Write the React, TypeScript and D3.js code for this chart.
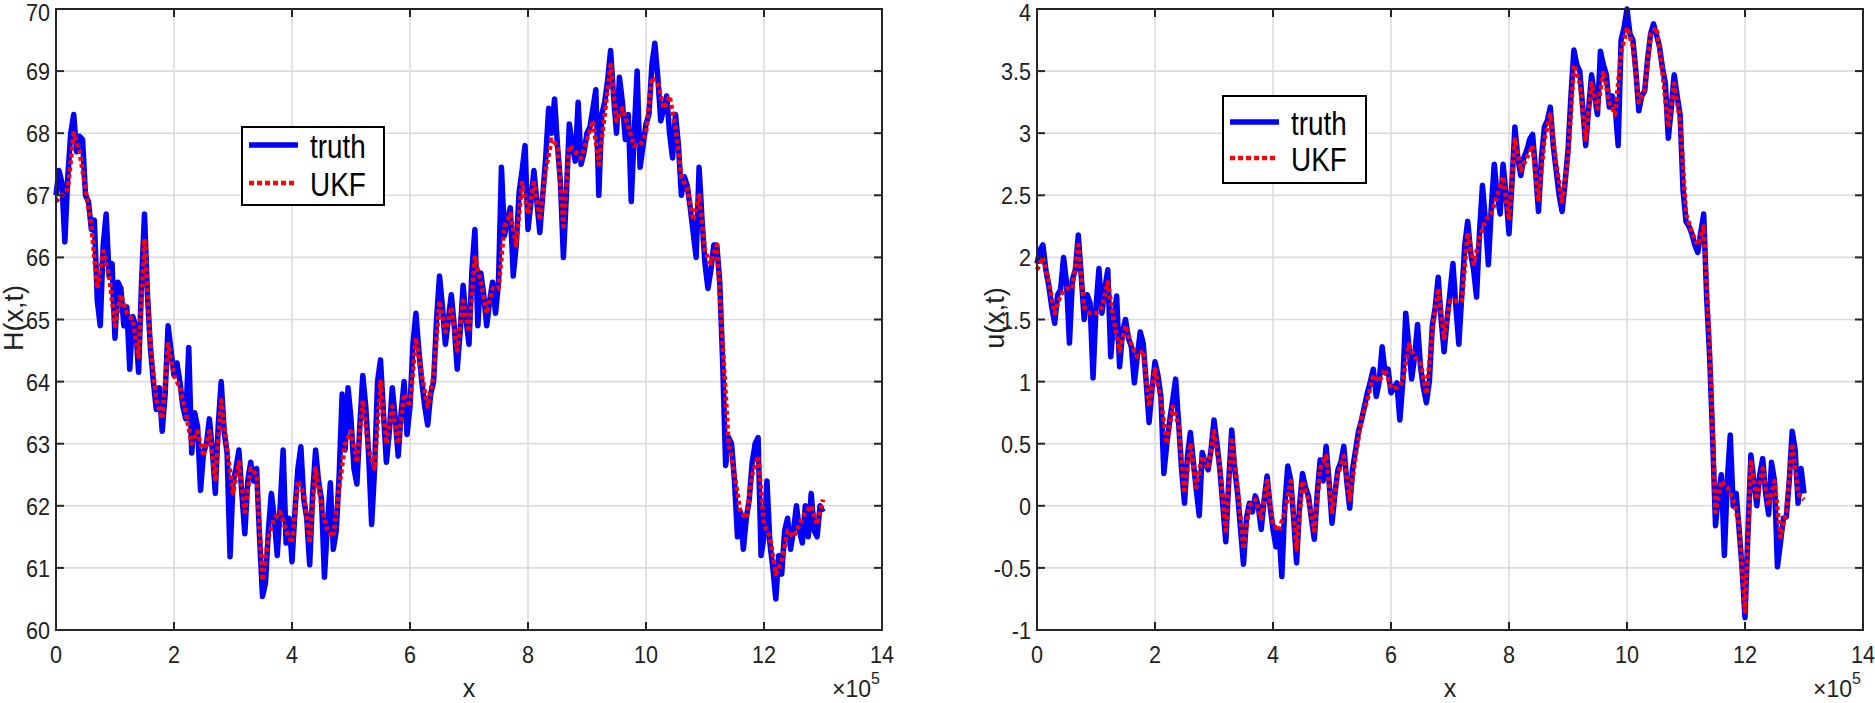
import React from "react";
import * as d3 from "d3";

// sample positions along x (units of 1e5): truth every 0.05, UKF every 0.1
const truthX = d3.range(261).map((i) => i / 20);
const ukfX = d3.range(131).map((i) => i / 10);

// left panel: H(x,t)
const hTruth = [
  67.0, 67.4, 67.2, 66.25, 67.3, 68.0, 68.3, 67.7, 67.95, 67.9,
  67.0, 66.9, 66.45, 66.6, 65.3, 64.9, 66.2, 66.7, 65.7, 65.9,
  64.7, 65.6, 65.5, 64.9, 65.2, 64.2, 65.05, 64.9, 64.15, 65.6,
  66.7, 65.4, 64.55, 64.0, 63.55, 63.9, 63.2, 63.8, 64.9, 64.5,
  64.1, 64.3, 64.0, 63.6, 63.4, 64.55, 62.85, 63.5, 63.27, 62.25,
  62.85, 63.0, 63.4, 62.9, 62.2, 63.3, 64.0, 63.2, 62.85, 61.18,
  62.37, 62.6, 62.9, 62.2, 61.55, 62.4, 62.7, 62.4, 62.6, 61.5,
  60.54, 60.75, 61.6, 62.2, 61.8, 61.2, 62.0, 62.9, 61.4, 61.8,
  61.1, 61.9, 62.6, 62.95, 62.1, 61.8, 61.05, 62.2, 62.9, 62.4,
  62.1, 60.85, 61.7, 62.37, 61.3, 61.6, 62.5, 63.8, 62.9, 63.9,
  63.4, 62.6, 62.35, 63.3, 64.1, 63.6, 62.8, 61.7, 62.6, 64.0,
  64.35, 63.5, 62.7, 63.2, 63.9, 63.4, 62.8, 63.5, 64.0, 63.15,
  63.6, 64.6, 65.1, 64.5, 64.0, 63.6, 63.3, 63.8, 64.0, 65.0,
  65.7, 65.2, 64.6, 65.0, 65.4, 64.9, 64.2, 64.8, 65.55, 65.0,
  64.6, 65.8, 66.45, 64.9, 65.75, 65.4, 64.9, 65.3, 65.6, 65.1,
  65.6, 67.45, 66.35, 66.6, 66.8, 65.7, 66.2, 67.05, 67.4, 67.8,
  66.45, 66.9, 67.4, 66.9, 66.4, 67.0, 67.6, 68.4, 68.0, 68.55,
  67.8, 67.2, 66.0, 67.0, 68.15, 67.8, 67.55, 68.5, 67.5, 67.7,
  68.0, 68.1, 68.4, 68.7, 67.0, 68.3, 68.5, 68.85, 69.33, 68.6,
  68.0, 68.9, 68.5, 67.9, 68.3, 66.9, 68.0, 69.0, 67.45, 67.8,
  68.15, 68.3, 69.1, 69.45, 68.9, 68.2, 68.4, 68.6, 68.0, 67.6,
  68.3, 67.8, 67.0, 67.3, 67.15, 66.8, 66.4, 66.0, 67.45, 66.6,
  65.9, 65.5, 65.8, 66.2, 66.2, 65.6, 64.3, 62.65, 63.1, 63.0,
  62.4, 61.5, 61.9, 61.3, 61.8, 62.1, 62.7, 63.0, 63.1, 61.2,
  61.5, 62.4, 61.4, 61.0, 60.5, 61.2, 60.9, 61.6, 61.8, 61.3,
  61.6, 62.0, 61.6, 61.4, 62.0, 61.5, 62.2, 61.6, 61.5, 62.0,
  61.9,
];
const hUkf = [
  66.9, 67.0, 67.1, 68.0, 67.7, 67.1, 66.5, 65.5, 66.1, 65.7,
  64.9, 65.4, 65.1, 65.0, 64.4, 66.3, 64.6, 63.7, 63.4, 64.6,
  64.1, 63.9, 63.5, 63.0, 63.2, 62.8, 63.2, 62.4, 63.7, 62.9,
  62.2, 62.7, 61.9, 62.6, 62.5, 60.8, 61.5, 61.8, 61.9, 61.6,
  61.4, 62.4, 62.2, 61.4, 62.6, 62.0, 61.6, 61.5, 62.3, 63.0,
  63.2, 62.7, 63.7, 62.9, 62.6, 64.0, 63.0, 63.6, 63.0, 63.8,
  63.6, 64.7, 64.1, 63.6, 64.1, 65.3, 64.8, 65.2, 64.5, 65.3,
  64.8, 66.0, 65.6, 65.1, 65.5, 65.5, 66.5, 66.7, 66.2, 67.2,
  66.7, 67.2, 66.6, 67.4, 67.9, 67.8, 66.5, 67.8, 67.7, 67.6,
  67.9, 68.2, 67.5, 68.3, 69.1, 68.2, 68.4, 68.1, 67.8, 67.8,
  68.0, 68.9, 68.8, 68.4, 68.6, 68.1, 67.3, 67.1, 66.6, 67.0,
  66.1, 65.9, 66.2, 64.6, 63.0, 62.5, 61.9, 61.8, 62.5, 62.8,
  61.7, 61.5, 60.9, 61.1, 61.6, 61.5, 61.7, 61.9, 62.0, 61.7,
  62.1,
];

// right panel: u(x,t)
const uTruth = [
  1.95, 2.06, 2.1, 1.9, 1.77, 1.6, 1.47, 1.7, 1.74, 2.0,
  1.8, 1.31, 1.82, 1.9, 2.18, 1.85, 1.5, 1.7, 1.63, 1.03,
  1.6, 1.91, 1.55, 1.75, 1.9, 1.2, 1.5, 1.69, 1.12, 1.4,
  1.5, 1.35, 1.28, 0.99, 1.2, 1.4, 1.31, 1.0, 0.67, 0.95,
  1.16, 1.05, 0.88, 0.26, 0.5, 0.69, 0.85, 1.02, 0.67, 0.3,
  0.02, 0.4, 0.59, 0.35, 0.13, -0.08, 0.43, 0.35, 0.29, 0.45,
  0.69, 0.5, 0.29, 0.0, -0.29, 0.2, 0.61, 0.3, 0.1, -0.19,
  -0.47, -0.1, 0.02, -0.05, 0.08, 0.0, -0.19, 0.05, 0.24, 0.0,
  -0.19, -0.33, -0.2, -0.57, 0.0, 0.32, 0.21, -0.1, -0.46, 0.0,
  0.26, 0.15, 0.08, -0.1, -0.27, 0.1, 0.37, 0.2, 0.48, 0.2,
  -0.14, 0.1, 0.29, 0.35, 0.48, 0.2, -0.02, 0.3, 0.45, 0.6,
  0.69, 0.8, 0.91, 1.0, 1.1, 0.88, 1.0, 1.28, 1.07, 1.1,
  0.91, 0.95, 0.99, 0.69, 1.0, 1.55, 1.3, 1.02, 1.2, 1.46,
  1.12, 0.95, 0.83, 1.0, 1.45, 1.6, 1.84, 1.5, 1.24, 1.5,
  1.72, 1.95, 1.6, 1.3, 1.7, 2.1, 2.29, 2.04, 1.9, 1.68,
  2.2, 2.58, 2.3, 1.94, 2.4, 2.75, 2.5, 2.35, 2.75, 2.5,
  2.19, 2.6, 3.05, 2.8, 2.66, 2.8, 2.86, 2.95, 2.99, 2.7,
  2.37, 2.8, 3.05, 3.1, 3.21, 2.9, 2.7, 2.5, 2.37, 2.6,
  2.86, 3.3, 3.67, 3.55, 3.5, 3.2, 2.9, 3.2, 3.47, 3.3,
  3.15, 3.66, 3.55, 3.47, 3.21, 3.3, 3.21, 2.9, 3.75, 3.85,
  4.0, 3.8, 3.75, 3.5, 3.18, 3.3, 3.34, 3.6, 3.8, 3.88,
  3.79, 3.7, 3.53, 3.4, 2.96, 3.2, 3.47, 3.3, 3.15, 2.54,
  2.29, 2.25, 2.19, 2.1, 2.04, 2.2, 2.35, 1.68, 1.21, 0.57,
  -0.16, 0.1, 0.25, -0.4, 0.2, 0.57, 0.0, 0.1, -0.19, -0.5,
  -0.9, -0.22, 0.41, 0.2, 0.0, 0.25, 0.38, 0.1, -0.07, 0.35,
  0.2, -0.49, -0.3, -0.1, -0.09, 0.2, 0.6, 0.45, 0.02, 0.3,
  0.1,
];
const uUkf = [
  1.9, 2.0, 1.8, 1.55, 1.7, 1.75, 1.75, 2.1, 1.6, 1.55,
  1.55, 1.6, 1.8, 1.5, 1.25, 1.45, 1.3, 1.2, 1.25, 0.8,
  1.1, 0.85, 0.5, 0.8, 0.65, 0.1, 0.5, 0.15, 0.4, 0.3,
  0.6, 0.3, -0.2, 0.55, 0.15, -0.35, 0.0, 0.05, -0.1, 0.2,
  -0.15, -0.2, -0.05, 0.2, -0.35, 0.2, 0.05, -0.2, 0.3, 0.4,
  -0.05, 0.25, 0.4, 0.05, 0.4, 0.7, 0.85, 1.05, 1.0, 1.1,
  0.95, 0.95, 1.0, 1.3, 1.2, 1.15, 0.9, 1.4, 1.75, 1.35,
  1.65, 1.65, 1.65, 2.2, 1.95, 2.15, 2.3, 2.35, 2.5, 2.65,
  2.3, 2.95, 2.7, 2.8, 2.9, 2.45, 2.95, 3.15, 2.75, 2.45,
  2.8, 3.55, 3.4, 2.95, 3.4, 3.2, 3.5, 3.25, 3.15, 3.65,
  3.85, 3.7, 3.25, 3.35, 3.8, 3.85, 3.5, 3.05, 3.4, 3.1,
  2.35, 2.2, 2.1, 2.25, 1.3, -0.05, 0.2, 0.15, 0.05, -0.15,
  -0.85, 0.35, 0.05, 0.3, 0.0, 0.2, -0.25, -0.05, 0.5, 0.1,
  0.05,
];

const xTicks = [0, 2, 4, 6, 8, 10, 12, 14];
const hTicks = [60, 61, 62, 63, 64, 65, 66, 67, 68, 69, 70];
const uTicks = [-1, -0.5, 0, 0.5, 1, 1.5, 2, 2.5, 3, 3.5, 4];
const legendNames = ["truth", "UKF"];

const font = "'Liberation Sans', Arial, sans-serif";
const axisColor = "#262626";
const gridColor = "#dcdcdc";

interface PanelProps {
  left: number;
  truth: number[];
  ukf: number[];
  yDomain: [number, number];
  yTicks: number[];
  yLabel: string;
  legend: { x: number; y: number; w: number; h: number; row1: number; row2: number };
}

const Panel: React.FC<PanelProps> = ({ left, truth, ukf, yDomain, yTicks, yLabel, legend }) => {
  const top = 9;
  const bottom = 630;
  const width = 826;
  const x = d3.scaleLinear().domain([0, 14]).range([left, left + width]);
  const y = d3.scaleLinear().domain(yDomain).range([bottom, top]);

  const lineOn = (xs: number[]) =>
    d3
      .line<number>()
      .x((_, i) => x(xs[i]))
      .y((d) => y(d));

  const tickLen = 8;

  return (
    <g>
      {/* grid */}
      {xTicks.slice(1, -1).map((t) => (
        <line key={"gx" + t} x1={x(t)} x2={x(t)} y1={top} y2={bottom} stroke={gridColor} strokeWidth={1.6} />
      ))}
      {yTicks.slice(1, -1).map((t) => (
        <line key={"gy" + t} x1={left} x2={left + width} y1={y(t)} y2={y(t)} stroke={gridColor} strokeWidth={1.6} />
      ))}

      {/* series */}
      <path d={lineOn(truthX)(truth) || ""} fill="none" stroke="#0000ff" strokeWidth={5.5} strokeLinejoin="round" />
      <path
        d={lineOn(ukfX)(ukf) || ""}
        fill="none"
        stroke="#ff0000"
        strokeWidth={4.5}
        strokeDasharray="4,3"
        strokeLinejoin="round"
      />

      {/* box + ticks */}
      <rect x={left} y={top} width={width} height={bottom - top} fill="none" stroke={axisColor} strokeWidth={2} />
      {xTicks.map((t) => (
        <g key={"tx" + t}>
          <line x1={x(t)} x2={x(t)} y1={bottom} y2={bottom - tickLen} stroke={axisColor} strokeWidth={2} />
          <line x1={x(t)} x2={x(t)} y1={top} y2={top + tickLen} stroke={axisColor} strokeWidth={2} />
          <text
            transform={`translate(${x(t)},663) scale(0.9,1)`}
            textAnchor="middle"
            fontSize={24}
            fontFamily={font}
            fill="#222"
          >
            {t}
          </text>
        </g>
      ))}
      {yTicks.map((t) => (
        <g key={"ty" + t}>
          <line x1={left} x2={left + tickLen} y1={y(t)} y2={y(t)} stroke={axisColor} strokeWidth={2} />
          <line x1={left + width} x2={left + width - tickLen} y1={y(t)} y2={y(t)} stroke={axisColor} strokeWidth={2} />
          <text
            transform={`translate(${left - 6},${Math.max(y(t) + 9, 21)}) scale(0.9,1)`}
            textAnchor="end"
            fontSize={24}
            fontFamily={font}
            fill="#222"
          >
            {String(t)}
          </text>
        </g>
      ))}

      {/* labels */}
      <text x={left + width / 2} y={697} textAnchor="middle" fontSize={25} fontFamily={font} fill="#222">
        x
      </text>
      <text
        transform={`translate(${left - 33},318) rotate(-90)`}
        textAnchor="middle"
        fontSize={27}
        fontFamily={font}
        fill="#222"
      >
        {yLabel}
      </text>
      <text x={left + width - 50} y={697} fontSize={23} fontFamily={font} fill="#222">
        ×10
        <tspan fontSize={16} dy={-13}>
          5
        </tspan>
      </text>

      {/* legend */}
      <rect x={legend.x} y={legend.y} width={legend.w} height={legend.h} fill="#fff" stroke="#000" strokeWidth={2} />
      <line x1={legend.x + 7} x2={legend.x + 56} y1={legend.row1} y2={legend.row1} stroke="#0000ff" strokeWidth={5.5} />
      <line
        x1={legend.x + 7}
        x2={legend.x + 54}
        y1={legend.row2}
        y2={legend.row2}
        stroke="#ff0000"
        strokeWidth={4.5}
        strokeDasharray="5,3"
      />
      {legendNames.map((name, i) => (
        <text
          key={name}
          transform={`translate(${legend.x + 68},${(i === 0 ? legend.row1 : legend.row2) + 13}) scale(0.82,1)`}
          fontSize={34}
          fontFamily={font}
          fill="#000"
        >
          {name}
        </text>
      ))}
    </g>
  );
};

export default function App() {
  return (
    <div style={{ position: "absolute", left: 0, top: 0, background: "#fff" }}>
      <svg width={1875} height={703} style={{ display: "block" }}>
        <rect width={1875} height={703} fill="#fff" />
        <Panel
          left={56}
          truth={hTruth}
          ukf={hUkf}
          yDomain={[60, 70]}
          yTicks={hTicks}
          yLabel="H(x,t)"
          legend={{ x: 242, y: 127, w: 142, h: 78, row1: 145, row2: 183 }}
        />
        <Panel
          left={1037}
          truth={uTruth}
          ukf={uUkf}
          yDomain={[-1, 4]}
          yTicks={uTicks}
          yLabel="u(x,t)"
          legend={{ x: 1223, y: 96, w: 143, h: 87, row1: 122, row2: 158 }}
        />
      </svg>
    </div>
  );
}
